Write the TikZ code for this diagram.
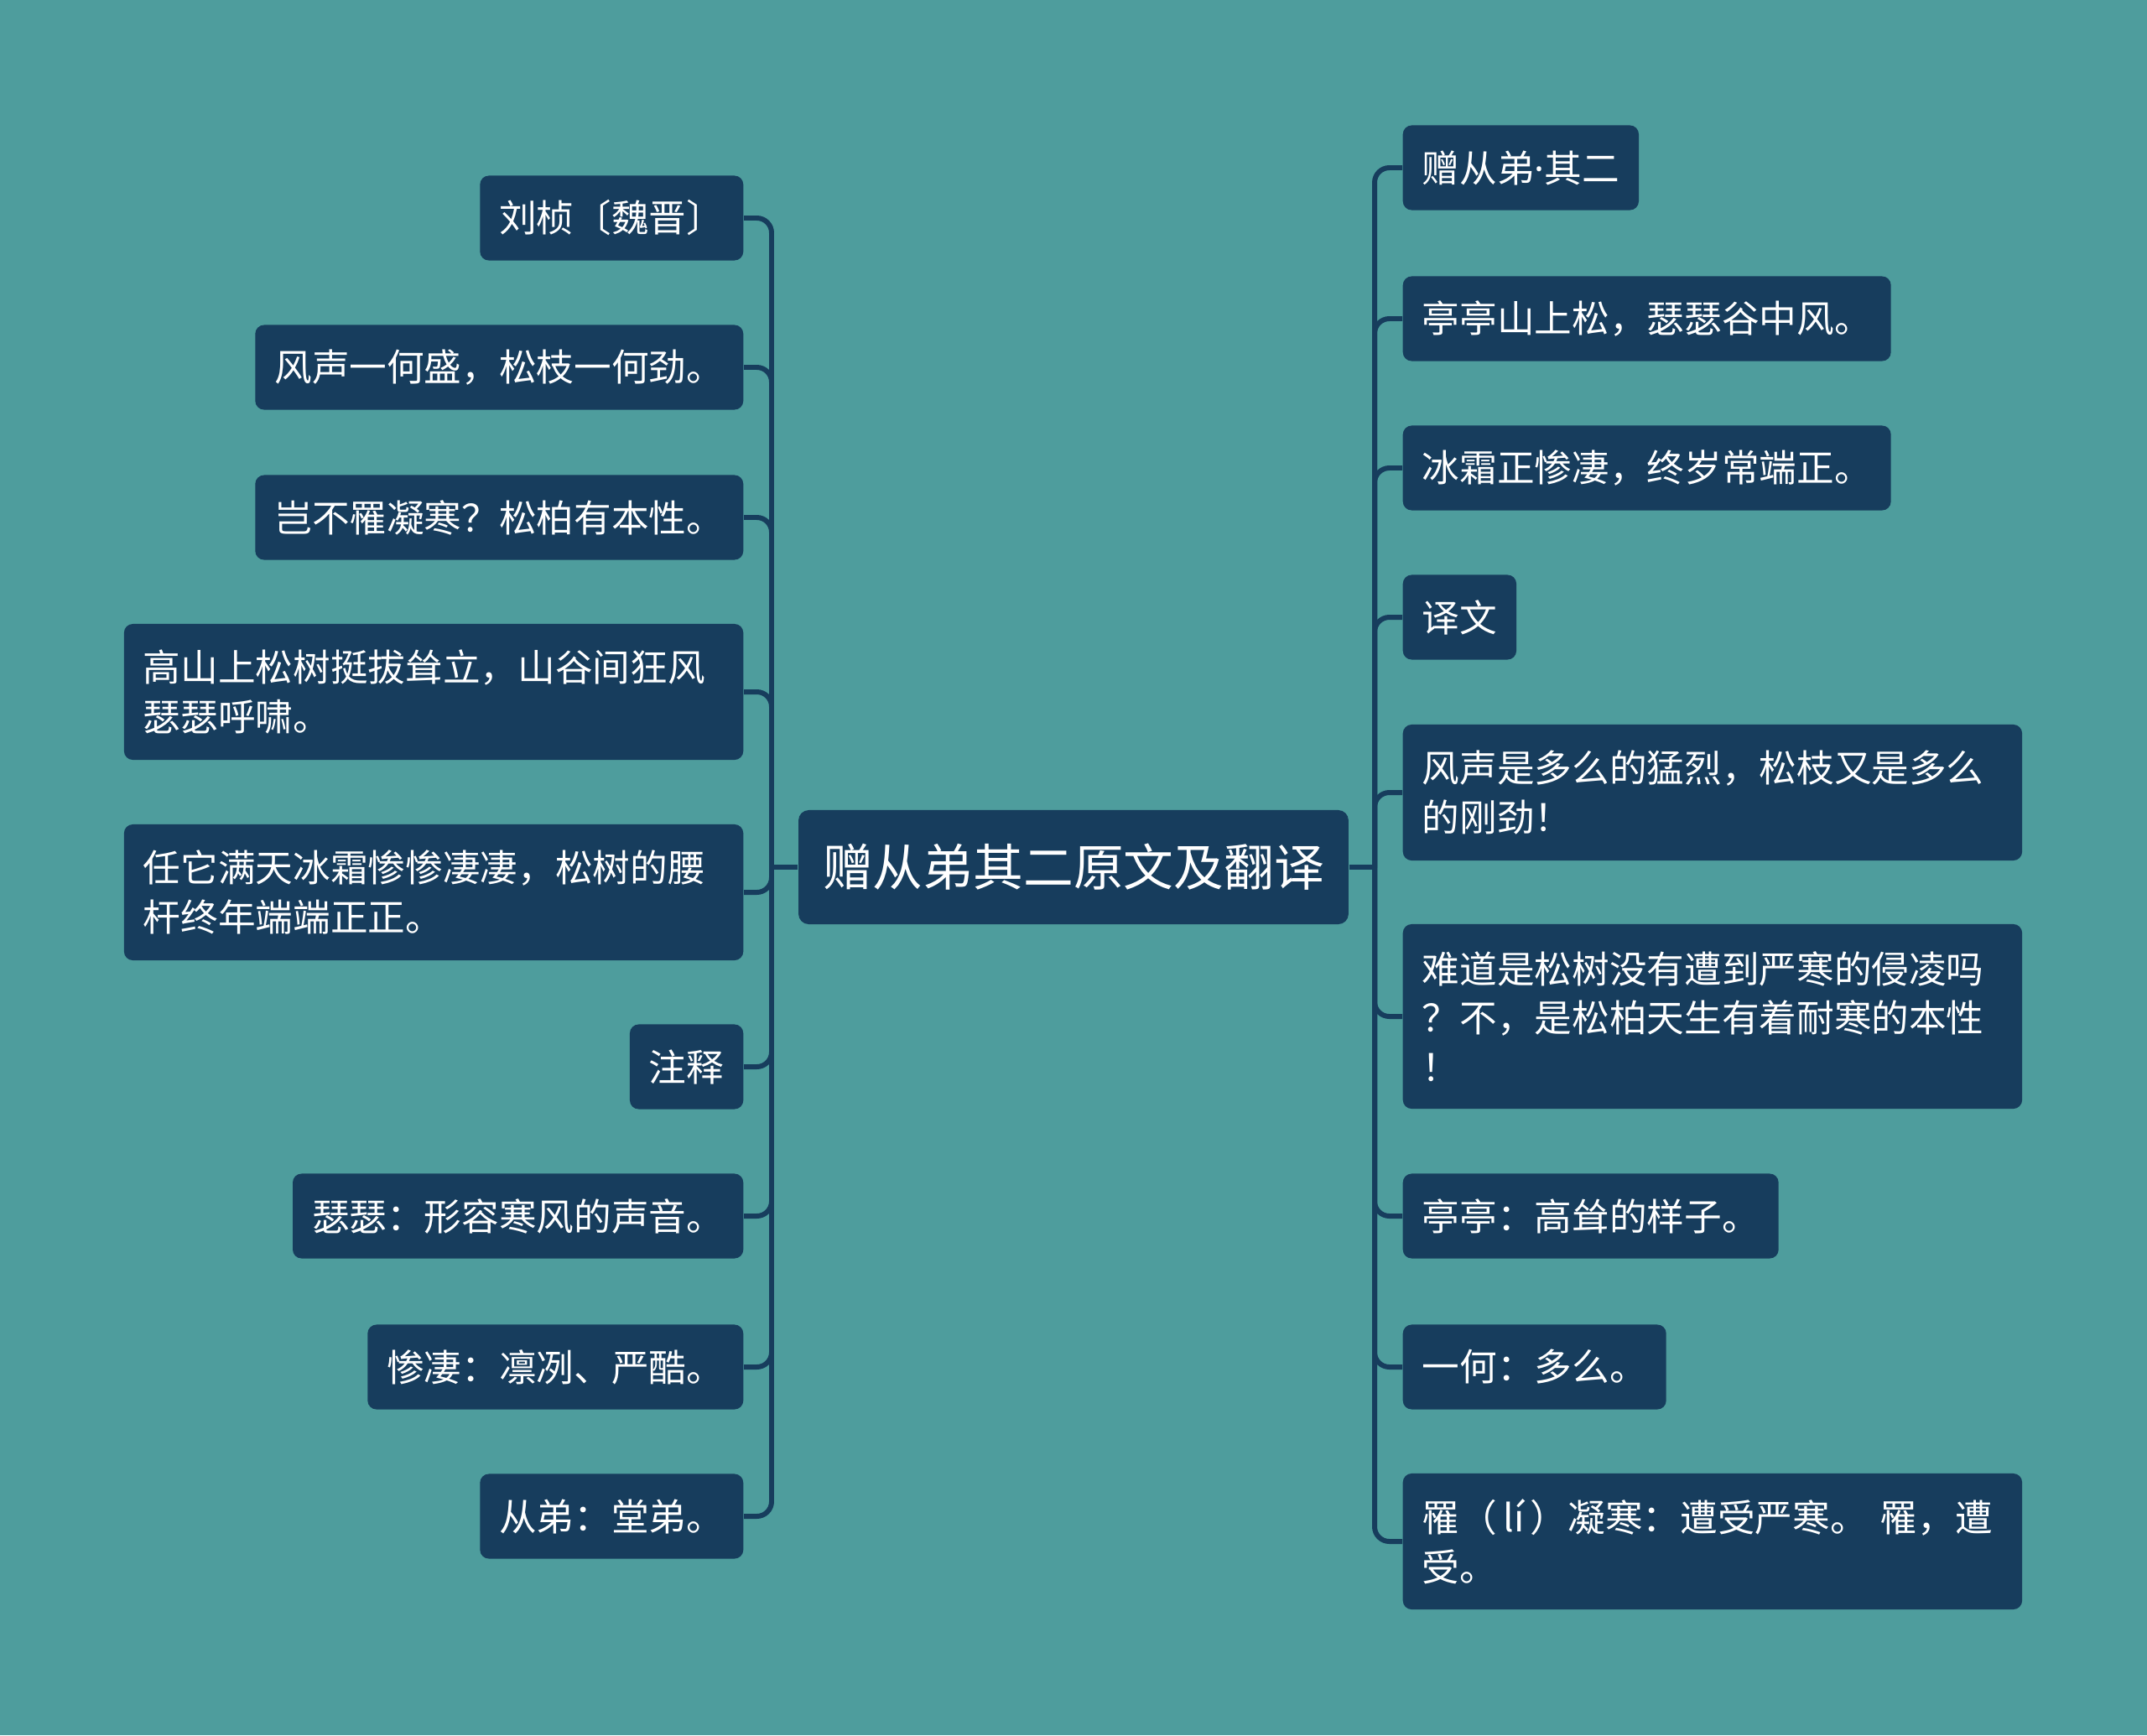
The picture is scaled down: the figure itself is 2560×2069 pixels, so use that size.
\documentclass[tikz,border=0pt]{standalone}
\usepackage{fontspec}
\setmainfont{Noto Sans CJK SC}
\newfontfamily\latinfont{Noto Sans}
\usetikzlibrary{positioning,calc}
\definecolor{PoemTeal}{RGB}{78,157,157}
\definecolor{PoemNavy}{RGB}{23,61,93}
\tikzset{
	root/.style={fill=PoemNavy,text=white,rounded corners=3.5pt,inner xsep=0.29cm,
		minimum height=1.36cm,font=\fontsize{17pt}{20pt}\selectfont},
	leaf/.style={fill=PoemNavy,text=white,rounded corners=3pt,inner xsep=0.23cm,
		minimum height=1.01cm,font=\fontsize{12.7pt}{16.7pt}\selectfont},
	wide/.style={text width=6.92cm,align=left,minimum height=1.62cm},
	tall/.style={text width=6.92cm,align=left,minimum height=2.20cm},
	link/.style={draw=PoemNavy,line width=1.7pt,rounded corners=5pt},
}

\begin{document}
\begin{tikzpicture}[x=0.01cm,y=-0.01cm]
	\fill[PoemTeal] (0,0) rectangle (2560,2069);
	\useasboundingbox (0,0) rectangle (2560,2069);
	\node[root] (root) at (1280,1034) {赠从弟其二原文及翻译};
	% left branch
	\foreach \n/\y/\t in {l1/260/刘桢〔魏晋〕,l2/438/风声一何盛，松枝一何劲。,
		l3/617/岂不罹凝寒？松柏有本性。,l6/1272/注释,l7/1450/瑟瑟：形容寒风的声音。,
		l8/1630/惨凄：凛冽、严酷。,l9/1808/从弟：堂弟。}
	\node[leaf,anchor=east] (\n) at (887,\y) {\t};
	\node[leaf,wide,anchor=east] (l4) at (887,825) {高山上松树挺拔耸立，山谷间狂风\\瑟瑟呼啸。};
	\node[leaf,wide,anchor=east] (l5) at (887,1064) {任它满天冰霜惨惨凄凄，松树的腰\\杆终年端端正正。};
	% right branch
	\foreach \n/\y/\t in {r1/200/赠从弟{\latinfont ·}其二,r2/380/亭亭山上松，瑟瑟谷中风。,
		r3/558/冰霜正惨凄，终岁常端正。,r4/736/译文,r7/1450/亭亭：高耸的样子。,
		r8/1630/一何：多么。}
	\node[leaf,anchor=west] (\n) at (1672,\y) {\t};
	\node[leaf,wide,anchor=west] (r5) at (1672,945) {风声是多么的猛烈，松枝又是多么\\的刚劲！};
	\node[leaf,tall,anchor=west] (r6) at (1672,1212) {难道是松树没有遭到严寒的侵凌吗\\？不，是松柏天生有着耐寒的本性\\！};
	\node[leaf,wide,anchor=west] (r9) at (1672,1838) {罹（\,lí\,）凝寒：遭受严寒。 罹，遭\\受。};
	% connectors
	\coordinate (lt) at (920,1034);
	\coordinate (rt) at (1639,1034);
	\draw[link] (root.west) -- (lt);
	\draw[link] (root.east) -- (rt);
	\foreach \i in {1,...,9}{
		\draw[link] (lt) |- (l\i.east);
		\draw[link] (rt) |- (r\i.west);
	}
\end{tikzpicture}
\end{document}
